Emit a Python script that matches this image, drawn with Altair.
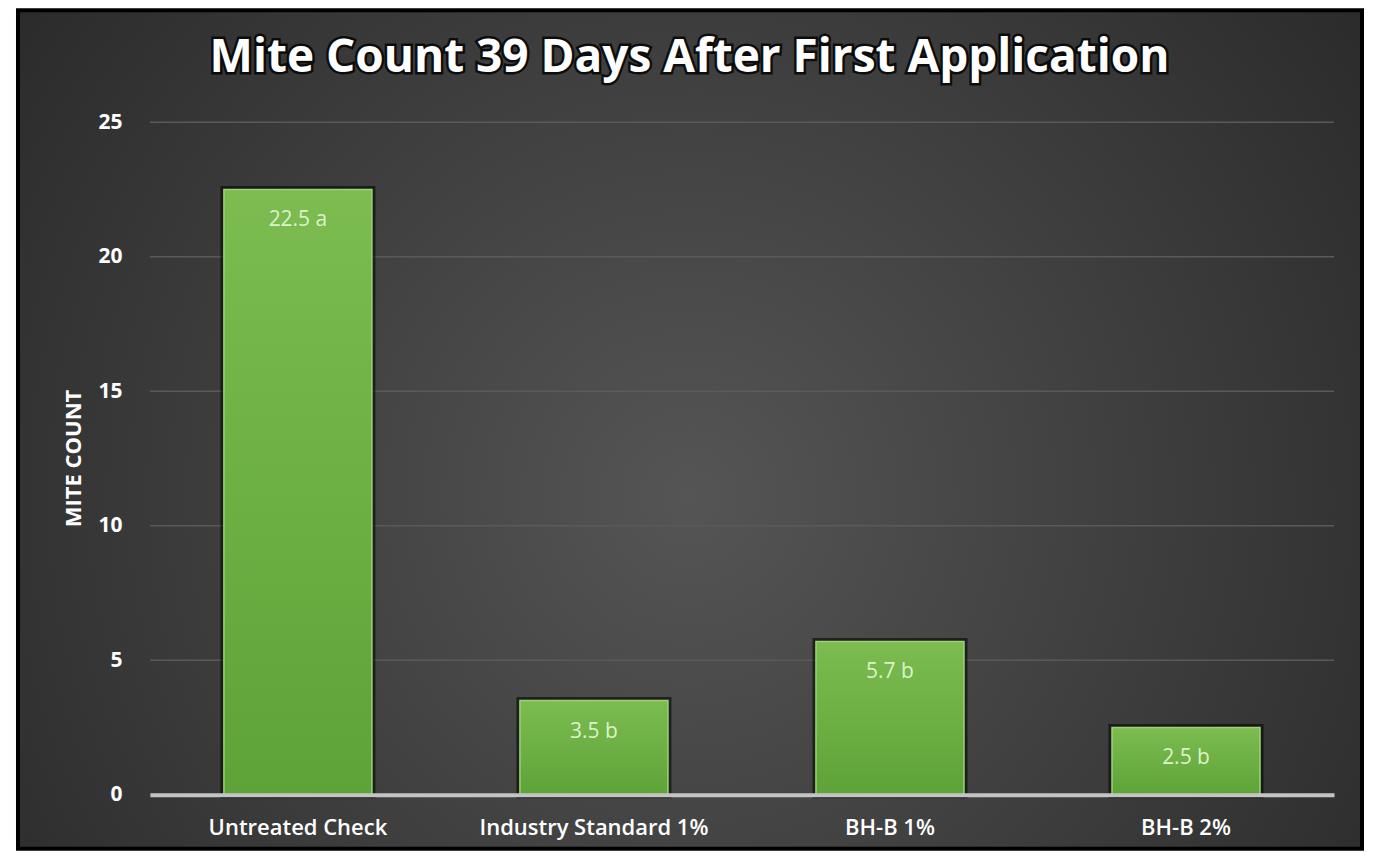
import altair as alt
import pandas as pd

categories = ["Untreated Check", "Industry Standard 1%", "BH-B 1%", "BH-B 2%"]
values = [22.5, 3.5, 5.7, 2.5]
letters = ["a", "b", "b", "b"]
y_ticks = [0, 5, 10, 15, 20, 25]
grid_values = [5, 10, 15, 20, 25]
title_text = ["Mite Count 39 Days After First Application"]

df = pd.DataFrame({
    "cat": categories,
    "val": values,
    "lab": [f"{v} {l}" for v, l in zip(values, letters)],
})
grid_df = pd.DataFrame({"val": grid_values})
title_df = pd.DataFrame({"t": title_text})

W, H = 1185, 673
FONT = "Open Sans"

x_enc = alt.X(
    "cat:N", sort=categories,
    scale=alt.Scale(paddingInner=0.5, paddingOuter=0.25),
    axis=alt.Axis(title=None, labelAngle=0, labelFontSize=22, labelColor="white",
                  labelFont=FONT, labelFontWeight=600, labelPadding=23, labelLimit=400,
                  domainColor="#c4c4c4", domainWidth=4, ticks=False, tickSize=0,
                  zindex=1),
)
y_scale = alt.Scale(domain=[0, 25])
y_enc = alt.Y(
    "val:Q", scale=y_scale,
    axis=alt.Axis(values=y_ticks, title="MITE COUNT", grid=False, domain=False,
                  ticks=False, tickSize=0, labelPadding=28, labelFontSize=21,
                  labelFontWeight="bold", labelColor="white", labelFont=FONT,
                  titleFont=FONT, titleFontSize=22, titleFontWeight="bold",
                  titleColor="white", titleAngle=-90, titleX=-76, titleY=336,
                  titleAlign="center", titleBaseline="middle", zindex=1),
)

radial = alt.RadialGradient(
    gradient="radial", x1=0.5, y1=0.55, x2=0.5, y2=0.55, r1=0, r2=0.75,
    stops=[alt.GradientStop(offset=0, color="#555555"),
           alt.GradientStop(offset=1, color="#222222")],
)
bg = alt.Chart(title_df).mark_rect(fill=radial, stroke="black", strokeWidth=4).encode(
    x=alt.value(-132), x2=alt.value(W + 28), y=alt.value(-112), y2=alt.value(H + 54)
)

grid = alt.Chart(grid_df).mark_rule(color="#5a5a5a", strokeWidth=1.5).encode(
    y=y_enc, x=alt.value(0), x2=alt.value(W),
)

green = alt.LinearGradient(
    gradient="linear", x1=0, y1=0, x2=0, y2=1,
    stops=[alt.GradientStop(offset=0, color="#7cbc50"),
           alt.GradientStop(offset=1, color="#5ea338")],
)
shadow = alt.Chart(df).mark_bar(fill=None, stroke="black", strokeWidth=7,
                                strokeOpacity=0.55).encode(x=x_enc, y=y_enc)
bars = alt.Chart(df).mark_bar(fill=green, stroke="#9ad476", strokeWidth=1.5).encode(
    x=x_enc, y=y_enc)
labels = alt.Chart(df).mark_text(dy=31, baseline="middle", align="center",
                                 color="#dcf2cc", fontSize=21, font=FONT).encode(
    x=x_enc, y=y_enc, text="lab:N")

title_shadow = alt.Chart(title_df).mark_text(
    font=FONT, fontSize=46, fontWeight="bold", color="black", stroke="black",
    strokeWidth=5, strokeOpacity=0.8, align="center", baseline="middle"
).encode(x=alt.value(540), y=alt.value(-64), text="t:N")
title = alt.Chart(title_df).mark_text(
    font=FONT, fontSize=46, fontWeight="bold", color="white",
    align="center", baseline="middle"
).encode(x=alt.value(540), y=alt.value(-64), text="t:N")

chart = alt.layer(bg, grid, shadow, bars, labels, title_shadow, title).properties(
    width=W, height=H,
    autosize=alt.AutoSizeParams(type="none"),
    padding={"left": 142, "top": 114, "right": 31, "bottom": 56},
).configure(background="white").configure_view(stroke=None)

chart.save("out.html", embed_options={"renderer": "svg", "actions": False})
